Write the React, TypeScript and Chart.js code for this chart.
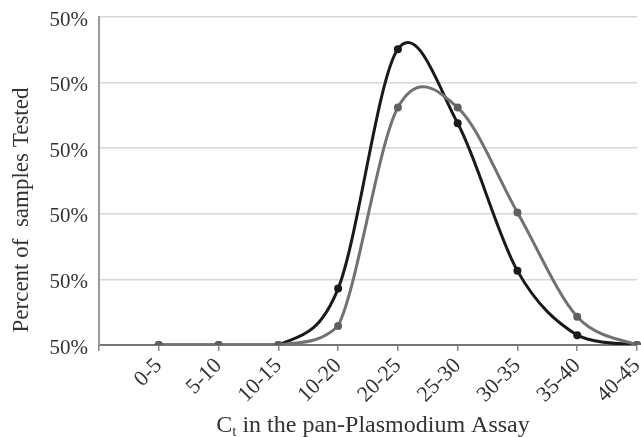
import React, { useEffect, useRef } from "react";
import { Chart, registerables } from "chart.js";

Chart.register(...registerables);

const categories = ["0-5", "5-10", "10-15", "10-20", "20-25", "25-30", "30-35", "35-40", "40-45"];
const blackValues = [0, 0, 0, 0.86, 4.51, 3.38, 1.13, 0.15, 0];
const grayValues = [0, 0, 0, 0.29, 3.62, 3.62, 2.02, 0.43, 0];
const yTickLabels = ["50%", "50%", "50%", "50%", "50%", "50%"];
const yTitle = "Percent of  samples Tested";
const xTitleMain = "C";
const xTitleSub = "t";
const xTitleRest = " in the pan-Plasmodium Assay";

const FONT = '"Liberation Serif", "Times New Roman", serif';

// Excel-like smoothing: uniform Catmull-Rom control points (1/6 of neighbour span)
const smoothPlugin = {
  id: "excelSmooth",
  beforeDatasetDraw(chart: any, args: any) {
    const meta = args.meta;
    const area = chart.chartArea;
    const pts = (meta.data || []).filter((p: any) => !p.skip);
    const n = pts.length;
    const clampY = (y: number) => Math.min(area.bottom, Math.max(area.top, y));
    for (let i = 0; i < n; i++) {
      const p = pts[i];
      const prev = pts[i - 1] || p;
      const next = pts[i + 1] || p;
      const dx = (next.x - prev.x) / 6;
      const dy = (next.y - prev.y) / 6;
      p.cp1x = p.x - dx;
      p.cp1y = clampY(p.y - dy);
      p.cp2x = p.x + dx;
      p.cp2y = clampY(p.y + dy);
    }
    if (meta.dataset) meta.dataset._pointsUpdated = true;
  },
};

const titlePlugin = {
  id: "customTitles",
  afterDraw(chart: any) {
    const ctx = chart.ctx as CanvasRenderingContext2D;
    const area = chart.chartArea;
    ctx.save();
    ctx.fillStyle = "#333";
    ctx.font = `23px ${FONT}`;
    ctx.textAlign = "center";
    ctx.textBaseline = "middle";
    ctx.translate(22, 210);
    ctx.rotate(-Math.PI / 2);
    ctx.fillText(yTitle, 0, 0);
    ctx.restore();

    ctx.save();
    ctx.fillStyle = "#333";
    ctx.textBaseline = "alphabetic";
    ctx.textAlign = "left";
    const big = `24px ${FONT}`;
    const small = `15px ${FONT}`;
    ctx.font = big;
    const wMain = ctx.measureText(xTitleMain).width;
    const wRest = ctx.measureText(xTitleRest).width;
    ctx.font = small;
    const wSub = ctx.measureText(xTitleSub).width;
    const total = wMain + wSub + wRest;
    const cx = (area.left + area.right) / 2 + 5;
    let x = cx - total / 2;
    const baseY = 432;
    ctx.font = big;
    ctx.fillText(xTitleMain, x, baseY);
    x += wMain;
    ctx.font = small;
    ctx.fillText(xTitleSub, x, baseY + 4);
    x += wSub;
    ctx.font = big;
    ctx.fillText(xTitleRest, x, baseY);
    ctx.restore();
  },
};

export default function App() {
  const ref = useRef<HTMLCanvasElement | null>(null);
  useEffect(() => {
    if (!ref.current) return;
    const chart = new Chart(ref.current, {
      type: "line",
      data: {
        labels: ["", ...categories],
        datasets: [
          {
            label: "gray",
            data: [null, ...grayValues],
            borderColor: "#727272",
            backgroundColor: "#606060",
            pointBackgroundColor: "#606060",
            pointBorderColor: "#606060",
            borderWidth: 3,
            pointRadius: 4,
            pointBorderWidth: 0,
            tension: 0.4,
            fill: false,
          },
          {
            label: "black",
            data: [null, ...blackValues],
            borderColor: "#1a1a1a",
            backgroundColor: "#1a1a1a",
            pointBackgroundColor: "#1a1a1a",
            pointBorderColor: "#1a1a1a",
            borderWidth: 3,
            pointRadius: 4,
            pointBorderWidth: 0,
            tension: 0.4,
            fill: false,
          },
        ],
      },
      options: {
        animation: false,
        responsive: true,
        maintainAspectRatio: false,
        layout: { padding: { top: 17, right: 3, left: 0, bottom: 0 } },
        plugins: {
          legend: { display: false },
          tooltip: { enabled: false },
        },
        scales: {
          x: {
            type: "category",
            offset: false,
            grid: {
              display: true,
              drawOnChartArea: false,
              drawTicks: true,
              tickLength: 6,
              color: "#8a8a8a",
              lineWidth: 1.5,
            },
            border: { display: true, color: "#777", width: 2 },
            ticks: {
              autoSkip: false,
              minRotation: 45,
              maxRotation: 45,
              padding: 2,
              color: "#333",
              font: { family: FONT, size: 22 },
            },
            afterFit: (s: any) => {
              s.height = 92;
              s.paddingLeft = 0;
              s.paddingRight = 0;
            },
          },
          y: {
            min: 0,
            max: 5,
            grid: {
              color: "#d6d6d6",
              lineWidth: 1.5,
              drawTicks: false,
            },
            border: { display: true, color: "#9a9a9a", width: 2 },
            ticks: {
              stepSize: 1,
              padding: 11,
              labelOffset: 3,
              color: "#333",
              font: { family: FONT, size: 21 },
              callback: (_v: any, i: number) => yTickLabels[i],
            },
            afterFit: (s: any) => {
              s.width = 99;
              s.paddingTop = 0;
              s.paddingBottom = 0;
            },
          },
        },
      },
      plugins: [smoothPlugin, titlePlugin],
    });
    return () => chart.destroy();
  }, []);
  return (
    <div style={{ position: "absolute", left: 0, top: 0, width: 641, height: 437 }}>
      <canvas ref={ref} />
    </div>
  );
}
